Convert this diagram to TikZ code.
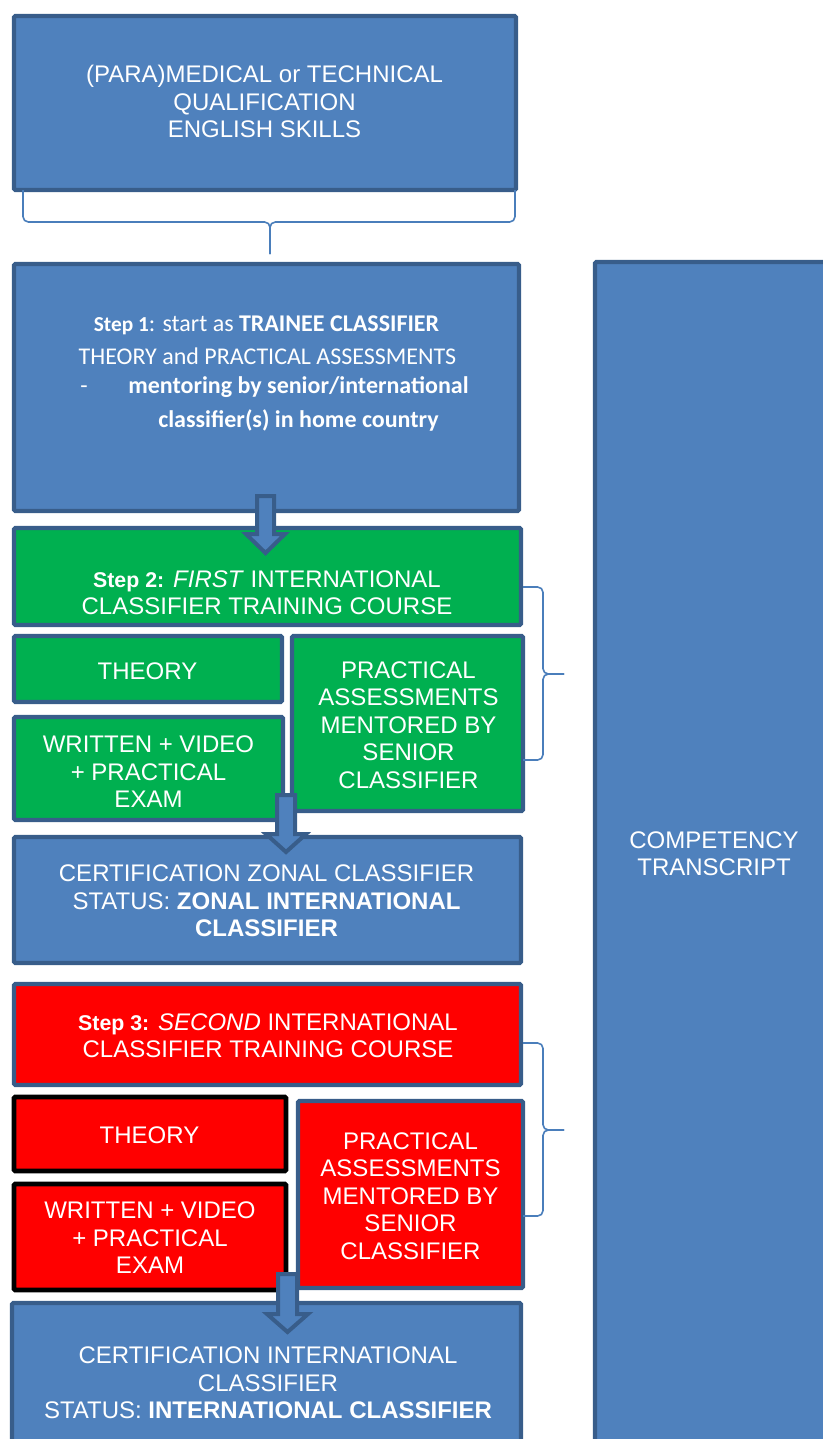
\documentclass[tikz,border=0pt]{standalone}
\usepackage{fontspec}
\setmainfont{Liberation Sans}
\newfontfamily\calib{Carlito}
\usetikzlibrary{fit}
\definecolor{boxblue}{HTML}{4F81BD}
\definecolor{edgeblue}{HTML}{385D8A}
\definecolor{boxgreen}{HTML}{00B050}
\definecolor{boxred}{HTML}{FF0000}
\definecolor{bracecol}{HTML}{4A7EBB}
\begin{document}
\begin{tikzpicture}[x=0.75pt,y=-0.75pt,
 box/.style={draw=edgeblue, line width=3.2pt, inner sep=0pt, rounded corners=1pt},
 bluebox/.style={box, fill=boxblue},
 greenbox/.style={box, fill=boxgreen},
 redbox/.style={box, fill=boxred},
 blackred/.style={box, fill=boxred, draw=black, line width=3.6pt},
 txt/.style={text=white, font=\fontsize{18}{20.6}\selectfont, align=center, inner sep=0pt},
 ctxt/.style={text=white, font=\calib\fontsize{18}{22}\selectfont, inner sep=0pt},
 brace/.style={draw=bracecol, line width=1.2pt, rounded corners=4pt},
 blockarrow/.style={fill=boxblue, draw=edgeblue, line width=3pt, line join=miter}
]
\path[use as bounding box] (0,0) rectangle (823,1439);
\clip (0,0) rectangle (823,1439);

% boxes
\node[bluebox, fit={(14,16)(516,190)}] (top) {};
\node[bluebox, fit={(14,264)(519,511)}] (s1) {};
\node[greenbox, fit={(14,528)(521,625)}] (s2h) {};
\node[greenbox, fit={(14,636)(282,702)}] (gth) {};
\node[greenbox, fit={(14,717)(283,820)}] (gwr) {};
\node[greenbox, fit={(292,636)(523,811)}] (gpr) {};
\node[bluebox, fit={(14,837)(521,963)}] (zonal) {};
\node[redbox, fit={(14,984)(521,1085)}] (s3h) {};
\node[blackred, fit={(14,1097)(286,1171)}] (rth) {};
\node[blackred, fit={(14,1184)(286,1290)}] (rwr) {};
\node[redbox, fit={(298,1101)(523,1288)}] (rpr) {};
\node[bluebox, fit={(12,1303)(521,1470)}] (final) {};
\node[bluebox, fit={(595,262)(870,1470)}] (comp) {};

% braces
\coordinate (b1tip) at (270,254);
\draw[brace] (23,190) -- (23,222) -- (270,222) -- (b1tip);
\draw[brace] (515,190) -- (515,222) -- (270,222) -- (b1tip);
\coordinate (b2tip) at (564,674);
\draw[brace] (523,587) -- (543,587) -- (543,674) -- (b2tip);
\draw[brace] (523,760) -- (543,760) -- (543,674) -- (b2tip);
\coordinate (b3tip) at (564,1130);
\draw[brace] (523,1043) -- (543,1043) -- (543,1130) -- (b3tip);
\draw[brace] (523,1216) -- (543,1216) -- (543,1130) -- (b3tip);

% block arrows
\coordinate (a1s) at (265.5,496); \coordinate (a1e) at (265.5,553);
\begin{scope}[shift={(a1s)}]
\draw[blockarrow] (-8.5,0) -- (8.5,0) -- (8.5,38) -- (19.5,38) -- (a1e) -- (-19.5,38) -- (-8.5,38) -- cycle;
\end{scope}
\coordinate (a2s) at (286,795); \coordinate (a2e) at (286,852);
\begin{scope}[shift={(a2s)}]
\draw[blockarrow] (-9,0) -- (9,0) -- (9,39) -- (20,39) -- (a2e) -- (-20,39) -- (-9,39) -- cycle;
\end{scope}
\coordinate (a3s) at (287.5,1274); \coordinate (a3e) at (287.5,1332);
\begin{scope}[shift={(a3s)}]
\draw[blockarrow] (-9.5,0) -- (9.5,0) -- (9.5,40) -- (20.5,40) -- (a3e) -- (-20.5,40) -- (-9.5,40) -- cycle;
\end{scope}

% texts
\node[txt] (toptxt) at (264.5,101.5) {(PARA)MEDICAL or TECHNICAL\\QUALIFICATION\\ENGLISH SKILLS};

\node[ctxt, anchor=base] (s1l1) at (266.5,331) {{\bfseries\fontsize{16}{22}\selectfont Step 1}: start as \textbf{TRAINEE CLASSIFIER}};
\node[ctxt, anchor=base] (s1l2) at (267.5,364) {THEORY and PRACTICAL ASSESSMENTS};
\node[ctxt, anchor=base west] (s1dash) at (80,393) {-};
\node[ctxt, anchor=base west] (s1l3) at (128,393) {\textbf{mentoring by senior/international}};
\node[ctxt, anchor=base west] (s1l4) at (158,427) {\textbf{classifier(s) in home country}};

\node[txt] (s2txt) at (267,592.5) {{\bfseries\fontsize{16}{20.6}\selectfont Step 2:} \textit{FIRST} INTERNATIONAL\\CLASSIFIER TRAINING COURSE};
\node[txt] (gthtxt) at (147.5,671) {THEORY};
\node[txt] (gwrtxt) at (148.5,772) {WRITTEN + VIDEO\\+ PRACTICAL\\EXAM};
\node[txt] (gprtxt) at (408.5,725) {PRACTICAL\\ASSESSMENTS\\MENTORED BY\\SENIOR\\CLASSIFIER};
\node[txt] (zontxt) at (266.5,901) {CERTIFICATION ZONAL CLASSIFIER\\STATUS: \textbf{ZONAL INTERNATIONAL}\\\textbf{CLASSIFIER}};

\node[txt] (s3txt) at (268,1035.5) {{\bfseries\fontsize{16}{20.6}\selectfont Step 3:} \textit{SECOND} INTERNATIONAL\\CLASSIFIER TRAINING COURSE};
\node[txt] (rthtxt) at (149.5,1135.5) {THEORY};
\node[txt] (rwrtxt) at (150,1238) {WRITTEN + VIDEO\\+ PRACTICAL\\EXAM};
\node[txt] (rprtxt) at (410.5,1196) {PRACTICAL\\ASSESSMENTS\\MENTORED BY\\SENIOR\\CLASSIFIER};
\node[txt] (fintxt) at (268,1383) {CERTIFICATION INTERNATIONAL\\CLASSIFIER\\STATUS: \textbf{INTERNATIONAL CLASSIFIER}};

\node[txt] (comptxt) at (714,853.5) {COMPETENCY\\TRANSCRIPT};
\end{tikzpicture}
\end{document}
